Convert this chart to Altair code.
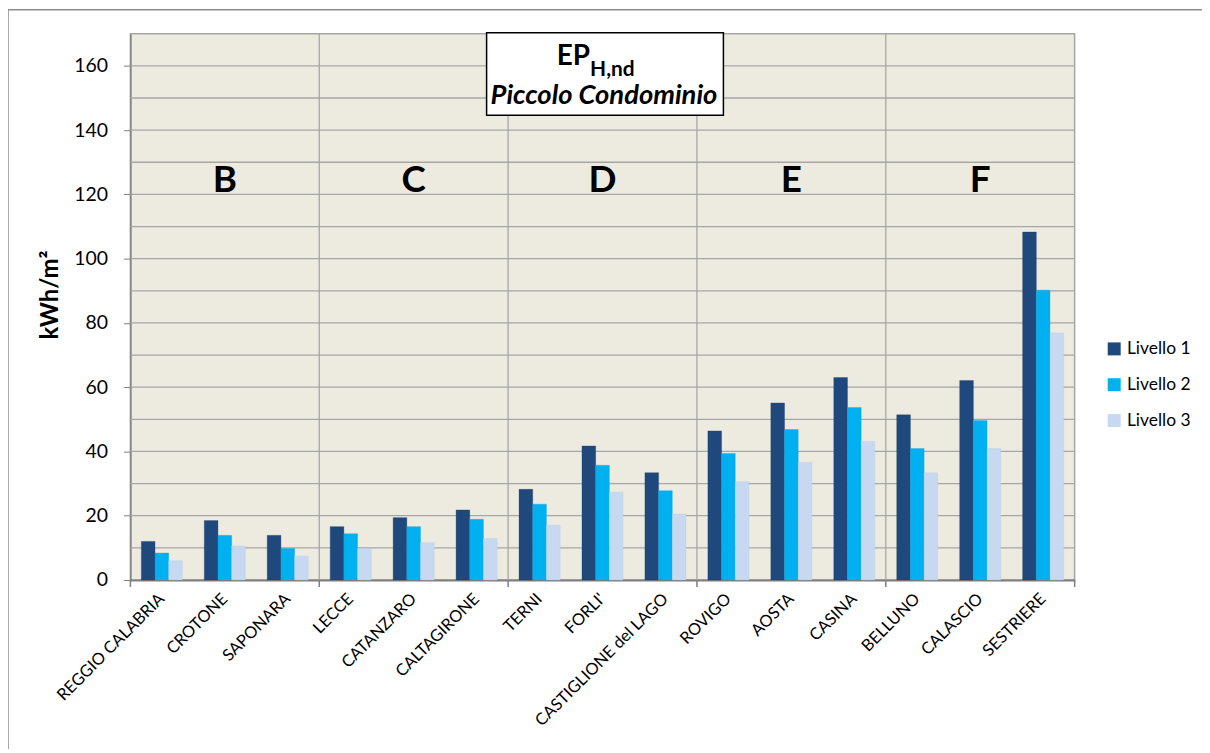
import altair as alt
import pandas as pd

cities = ["REGGIO CALABRIA", "CROTONE", "SAPONARA", "LECCE", "CATANZARO", "CALTAGIRONE",
          "TERNI", "FORLI'", "CASTIGLIONE del LAGO", "ROVIGO", "AOSTA", "CASINA",
          "BELLUNO", "CALASCIO", "SESTRIERE"]
livello1 = [12.0, 18.5, 13.9, 16.6, 19.4, 21.8, 28.2, 41.7, 33.4, 46.4, 55.1, 63.0, 51.4, 62.1, 108.3]
livello2 = [8.4, 13.9, 9.8, 14.4, 16.6, 18.9, 23.6, 35.7, 27.8, 39.4, 46.8, 53.7, 40.9, 49.6, 90.2]
livello3 = [6.0, 10.6, 7.4, 9.8, 11.6, 12.9, 17.1, 27.3, 20.5, 30.6, 36.6, 43.1, 33.4, 40.9, 76.9]
levels = ["Livello 1", "Livello 2", "Livello 3"]
colors = ["#1F497D", "#00B0F0", "#C6D9F1"]
zones = ["B", "C", "D", "E", "F"]
zone_centers = ["CROTONE", "CATANZARO", "FORLI'", "AOSTA", "CALASCIO"]
y_ticks = [0, 20, 40, 60, 80, 100, 120, 140, 160]
grid_vals = [10, 20, 30, 40, 50, 60, 70, 80, 90, 100, 110, 120, 130, 140, 150, 160]

rows = []
for i, c in enumerate(cities):
    for lv, vals in zip(levels, [livello1, livello2, livello3]):
        rows.append({"city": c, "livello": lv, "value": vals[i]})
df = pd.DataFrame(rows)

W, H = 949, 549
xscale = alt.Scale(domain=cities, paddingInner=0, paddingOuter=0)
yscale = alt.Scale(domain=[0, 170], nice=False)
one = alt.Data(values=[{"a": 1}])

grid = alt.Chart(pd.DataFrame({"v": grid_vals})).mark_rule(color="#A6A6A6", strokeWidth=1.3).encode(
    y=alt.Y("v:Q", scale=yscale, axis=None)
)

seps = alt.Chart(pd.DataFrame({"city": cities[3::3]})).mark_rule(color="#A6A6A6", strokeWidth=1.3).encode(
    x=alt.X("city:N", scale=xscale, bandPosition=0, axis=None)
)

ticks_start = alt.Chart(pd.DataFrame({"city": cities[0::3]})).mark_rule(color="#7F7F7F", strokeWidth=1.5).encode(
    x=alt.X("city:N", scale=xscale, bandPosition=0, axis=None),
    y=alt.value(H), y2=alt.value(H + 7)
)
ticks_end = alt.Chart(pd.DataFrame({"city": cities[-1:]})).mark_rule(color="#7F7F7F", strokeWidth=1.5).encode(
    x=alt.X("city:N", scale=xscale, bandPosition=1, axis=None),
    y=alt.value(H), y2=alt.value(H + 7)
)

bars = alt.Chart(df).mark_bar(strokeWidth=0.6, strokeOpacity=0.5).encode(
    x=alt.X("city:N", scale=xscale, title=None,
            axis=alt.Axis(labelAngle=-45, labelAlign="right", labelBaseline="middle",
                          labelPadding=16, ticks=False, grid=False, labelFontSize=16.5,
                          labelLimit=400, labelColor="#000000", domainColor="#7F7F7F",
                          domainWidth=2)),
    xOffset=alt.XOffset("livello:N", sort=levels, scale=alt.Scale(paddingOuter=0.8, paddingInner=0)),
    y=alt.Y("value:Q", scale=yscale, title="kWh/m²",
            axis=alt.Axis(values=y_ticks, grid=False, tickSize=7, tickColor="#7F7F7F",
                          domainColor="#7F7F7F", domainWidth=1.5, labelFontSize=19.5,
                          labelColor="#000000", labelPadding=16, titleFontSize=24,
                          titleFontWeight="bold", titleColor="#000000", titlePadding=11,
                          titleY=262)),
    color=alt.Color("livello:N", sort=levels, scale=alt.Scale(domain=levels, range=colors),
                    legend=alt.Legend(title=None, orient="none", legendX=980, legendY=308,
                                      symbolType="square", symbolSize=170, symbolStrokeWidth=0,
                                      labelFontSize=17.5, labelColor="#000000", rowPadding=17,
                                      labelOffset=4)),
    stroke=alt.Color("livello:N", sort=levels, scale=alt.Scale(domain=levels, range=["#17375E", "#00A0DC", "#B0C8E6"]), legend=None),
)

letters = alt.Chart(pd.DataFrame({"city": zone_centers, "zone": zones, "y": [124] * 5})).mark_text(
    fontSize=37, fontWeight="bold", color="#000000", baseline="middle"
).encode(
    x=alt.X("city:N", scale=xscale, axis=None),
    y=alt.Y("y:Q", scale=yscale, axis=None),
    text="zone:N"
)

box = alt.Chart(one).mark_rect(fill="#FFFFFF", stroke="#000000", strokeWidth=1.5).encode(
    x=alt.value(358), x2=alt.value(596), y=alt.value(-1), y2=alt.value(82)
)
t_ep = alt.Chart(one).mark_text(fontSize=28, fontWeight="bold", align="right", baseline="alphabetic", color="#000000").encode(
    x=alt.value(462), y=alt.value(31), text=alt.value("EP")
)
t_sub = alt.Chart(one).mark_text(fontSize=21, fontWeight="bold", align="left", baseline="alphabetic", color="#000000").encode(
    x=alt.value(462), y=alt.value(42), text=alt.value("H,nd")
)
t_sub2 = alt.Chart(one).mark_text(fontSize=27.5, fontWeight="bold", fontStyle="italic", align="center", baseline="alphabetic", color="#000000").encode(
    x=alt.value(476), y=alt.value(71), text=alt.value("Piccolo Condominio")
)

frame_top = alt.Chart(one).mark_rule(color="#8C8C8C", strokeWidth=1.5).encode(
    x=alt.value(-123), x2=alt.value(1080), y=alt.value(-24)
)
frame_left = alt.Chart(one).mark_rule(color="#8C8C8C", strokeWidth=1.5).encode(
    x=alt.value(-123), y=alt.value(-24), y2=alt.value(730)
)

chart = alt.layer(
    grid, seps, ticks_start, ticks_end, bars, letters, box, t_ep, t_sub, t_sub2, frame_top, frame_left
).resolve_axis(x="independent", y="independent").properties(
    width=W, height=H,
    autosize=alt.AutoSizeParams(type="none"),
    padding={"left": 123, "top": 24, "right": 128, "bottom": 168},
    background="#FFFFFF"
).configure(font="Lato").configure_view(fill="#EDEBE0", stroke="#A6A6A6", strokeWidth=1.5)

chart.save("out.html", embed_options={"renderer": "svg", "actions": False})
